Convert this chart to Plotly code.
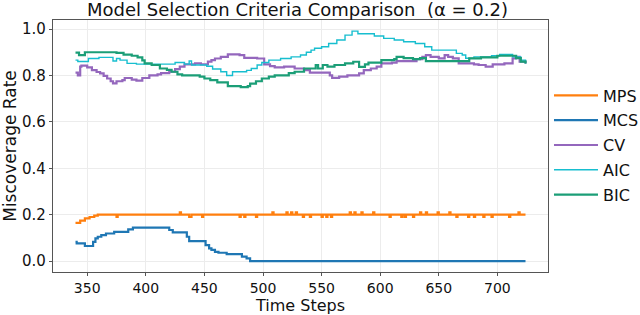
import plotly.graph_objects as go

# ---------------- data (breakpoints; values hold until next step) ----
mps_x = [340, 344, 348, 352, 356, 359, 375, 376, 429, 430, 437, 439, 448, 449,
         480, 481, 484, 485, 494, 495, 508, 509, 520, 521, 524, 525, 528, 529,
         534, 535, 540, 541, 550, 551, 554, 555, 558, 559, 574, 575, 578, 579,
         584, 585, 594, 595, 608, 609, 618, 619, 621, 622, 628, 629, 634, 635,
         639, 640, 649, 650, 659, 660, 665, 666, 675, 676, 680, 681, 688, 689,
         695, 696, 710, 711, 718, 719, 724]
mps_y = [0.165, 0.174, 0.184, 0.19, 0.196, 0.2, 0.19, 0.2, 0.21, 0.2, 0.19, 0.2, 0.19, 0.2,
         0.19, 0.2, 0.19, 0.2, 0.19, 0.2, 0.21, 0.2, 0.21, 0.2, 0.21, 0.2, 0.21, 0.2,
         0.19, 0.2, 0.19, 0.2, 0.19, 0.2, 0.19, 0.2, 0.19, 0.2, 0.21, 0.2, 0.21, 0.2,
         0.21, 0.2, 0.21, 0.2, 0.19, 0.2, 0.19, 0.2, 0.19, 0.2, 0.19, 0.2, 0.21, 0.2,
         0.21, 0.2, 0.21, 0.2, 0.21, 0.2, 0.19, 0.2, 0.19, 0.2, 0.19, 0.2, 0.19, 0.2,
         0.19, 0.2, 0.19, 0.2, 0.21, 0.2, 0.2]

mcs_x = [340, 341, 348, 355, 357, 359, 362, 366, 373, 385, 389, 420, 423, 435, 437,
         451, 454, 456, 459, 462, 469, 482, 486, 489, 724]
mcs_y = [0.083, 0.076, 0.065, 0.083, 0.098, 0.105, 0.112, 0.119, 0.126, 0.137, 0.144,
         0.134, 0.124, 0.105, 0.086, 0.069, 0.055, 0.048, 0.04, 0.036, 0.03, 0.019,
         0.012, 0.0, 0.0]

cv_x = [340, 342, 344, 345, 350, 354, 358, 361, 364, 367, 370, 372, 375, 380, 382,
        388, 392, 397, 403, 410, 413, 420, 425, 429, 433, 442, 447, 453, 456, 459,
        464, 470, 480, 484, 495, 501, 506, 510, 518, 527, 535, 540, 557, 559, 565,
        572, 582, 586, 592, 597, 601, 610, 614, 626, 631, 636, 639, 643, 650, 655,
        658, 662, 667, 680, 684, 690, 696, 706, 713, 716, 719, 724]
cv_y = [0.812, 0.80, 0.838, 0.842, 0.835, 0.823, 0.815, 0.809, 0.798, 0.787, 0.775,
        0.766, 0.775, 0.78, 0.789, 0.782, 0.778, 0.789, 0.80, 0.805, 0.81, 0.816,
        0.827, 0.838, 0.848, 0.852, 0.848, 0.86, 0.866, 0.873, 0.88, 0.891, 0.888,
        0.876, 0.873, 0.848, 0.84, 0.835, 0.838, 0.83, 0.823, 0.812, 0.80, 0.79,
        0.795, 0.80, 0.809, 0.823, 0.83, 0.838, 0.852, 0.855, 0.862, 0.862, 0.87,
        0.88, 0.888, 0.88, 0.874, 0.888, 0.88, 0.874, 0.852, 0.848, 0.845, 0.838,
        0.848, 0.852, 0.874, 0.88, 0.86, 0.852]

aic_x = [340, 342, 351, 360, 372, 375, 378, 384, 392, 425, 433, 437, 439, 452, 457,
         464, 469, 474, 486, 490, 495, 499, 505, 515, 524, 532, 537, 541, 544, 550,
         556, 563, 570, 576, 581, 595, 603, 612, 620, 630, 638, 644, 665, 670, 673,
         680, 695, 702, 713, 720, 724]
aic_y = [0.866, 0.86, 0.873, 0.878, 0.862, 0.873, 0.866, 0.852, 0.849, 0.856, 0.849,
         0.862, 0.845, 0.84, 0.828, 0.816, 0.80, 0.816, 0.822, 0.83, 0.845, 0.856,
         0.866, 0.873, 0.88, 0.888, 0.90, 0.909, 0.917, 0.924, 0.938, 0.953, 0.974,
         0.991, 0.98, 0.97, 0.96, 0.953, 0.945, 0.938, 0.924, 0.909, 0.895, 0.888,
         0.874, 0.88, 0.885, 0.891, 0.88, 0.866, 0.852]

bic_x = [340, 343, 348, 375, 381, 388, 393, 397, 399, 405, 412, 418, 422, 427, 431,
         446, 450, 455, 461, 470, 481, 487, 489, 494, 499, 505, 510, 522, 527, 535,
         540, 545, 547, 551, 555, 561, 570, 577, 582, 587, 590, 601, 612, 614, 620,
         628, 634, 639, 660, 676, 686, 700, 716, 720, 724]
bic_y = [0.898, 0.888, 0.9, 0.897, 0.89, 0.885, 0.878, 0.865, 0.852, 0.845, 0.83,
         0.824, 0.816, 0.805, 0.80, 0.795, 0.787, 0.78, 0.77, 0.754, 0.75, 0.754,
         0.765, 0.775, 0.787, 0.795, 0.80, 0.81, 0.816, 0.83, 0.83, 0.845, 0.83,
         0.845, 0.838, 0.845, 0.852, 0.859, 0.837, 0.848, 0.855, 0.866, 0.87, 0.88,
         0.875, 0.87, 0.875, 0.862, 0.862, 0.874, 0.878, 0.885, 0.875, 0.86, 0.852]

x_ticks = [350, 400, 450, 500, 550, 600, 650, 700]
y_ticks = [0.0, 0.2, 0.4, 0.6, 0.8, 1.0]

series = [
    ("MPS", mps_x, mps_y, "#ff7f0e", 2.2),
    ("MCS", mcs_x, mcs_y, "#1f77b4", 2.2),
    ("CV", cv_x, cv_y, "#9467bd", 2.2),
    ("AIC", aic_x, aic_y, "#17becf", 1.4),
    ("BIC", bic_x, bic_y, "#1b9e77", 2.2),
]

FONT = "DejaVu Sans"
fig = go.Figure()
for name, xs, ys, color, w in series:
    fig.add_trace(go.Scatter(x=xs, y=ys, mode="lines", name=name, legendgroup=name,
                             line=dict(color=color, width=w, shape="hv")))

axis_common = dict(showline=True, mirror=True, linecolor="#555", linewidth=1.4,
                   showgrid=True, gridcolor="#ececec", gridwidth=1,
                   ticks="outside", ticklen=3, tickcolor="#555", zeroline=False)

fig.update_layout(
    width=640, height=315,
    margin=dict(l=53, r=92, t=20, b=43, autoexpand=False),
    paper_bgcolor="white", plot_bgcolor="white",
    font=dict(family=FONT, size=16, color="#111"),
    title=dict(text="Model Selection Criteria Comparison  (\u03b1 = 0.2)",
               xref="paper", x=0.494, xanchor="center",
               y=1 - 10 / 315, yanchor="middle", yref="container",
               font=dict(family=FONT, size=18, color="#111"), pad=dict(t=0, b=0)),
    legend=dict(x=1.002, xanchor="left", y=0.504, yanchor="middle",
                font=dict(family=FONT, size=16, color="#111"),
                tracegroupgap=1, traceorder="grouped", itemwidth=44,
                bgcolor="rgba(0,0,0,0)", borderwidth=0),
    xaxis=dict(range=[320.8, 743.2], tickvals=x_ticks,
               tickfont=dict(family=FONT, size=14, color="#111"),
               title=dict(text="Time Steps", standoff=8,
                          font=dict(family=FONT, size=16)),
               **axis_common),
    yaxis=dict(range=[-0.047, 1.039], tickvals=y_ticks, tickformat=".1f",
               tickfont=dict(family=FONT, size=15, color="#111"),
               title=dict(text="Miscoverage Rate", standoff=4,
                          font=dict(family=FONT, size=17)),
               **axis_common),
)

fig.write_html("out.html", config={"displayModeBar": False},
               post_script="document.body.style.margin='0';")
